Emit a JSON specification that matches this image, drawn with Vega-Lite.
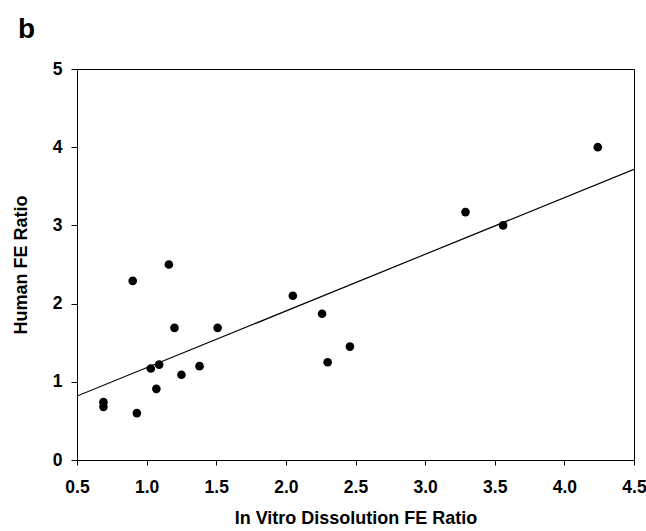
{
  "$schema": "https://vega.github.io/schema/vega-lite/v6.json",
  "autosize": "none",
  "width": 557,
  "height": 391,
  "padding": {"left": 77, "top": 69, "right": 12, "bottom": 71},
  "background": "white",
  "title": {
    "text": "b",
    "anchor": "start",
    "frame": "group",
    "font": "Liberation Sans",
    "fontSize": 28,
    "fontWeight": "bold",
    "color": "black",
    "dx": -59,
    "offset": 16
  },
  "config": {
    "view": {"stroke": "black", "strokeWidth": 1},
    "axis": {
      "grid": false,
      "domainColor": "black",
      "tickColor": "black",
      "labelColor": "black",
      "titleColor": "black",
      "labelFont": "Liberation Sans",
      "labelFontWeight": "bold",
      "labelFontSize": 17.5,
      "titleFont": "Liberation Sans",
      "titleFontWeight": "bold",
      "titleFontSize": 18,
      "tickSize": 6
    }
  },
  "data": {
    "values": [
      {"x": 0.69, "y": 0.74},
      {"x": 0.69, "y": 0.68},
      {"x": 0.93, "y": 0.60},
      {"x": 0.90, "y": 2.29},
      {"x": 1.16, "y": 2.50},
      {"x": 1.20, "y": 1.69},
      {"x": 1.51, "y": 1.69},
      {"x": 1.03, "y": 1.17},
      {"x": 1.09, "y": 1.22},
      {"x": 1.07, "y": 0.91},
      {"x": 1.25, "y": 1.09},
      {"x": 1.38, "y": 1.20},
      {"x": 2.05, "y": 2.10},
      {"x": 2.26, "y": 1.87},
      {"x": 2.30, "y": 1.25},
      {"x": 2.46, "y": 1.45},
      {"x": 3.29, "y": 3.17},
      {"x": 3.56, "y": 3.00},
      {"x": 4.24, "y": 4.00}
    ]
  },
  "encoding": {
    "x": {
      "field": "x",
      "type": "quantitative",
      "scale": {"domain": [0.5, 4.5], "nice": false, "zero": false},
      "axis": {
        "title": "In Vitro Dissolution FE Ratio",
        "values": [0.5, 1.0, 1.5, 2.0, 2.5, 3.0, 3.5, 4.0, 4.5],
        "format": ".1f",
        "tickSize": 5,
        "labelPadding": 13,
        "titlePadding": 14,
        "labelFlush": false
      }
    },
    "y": {
      "field": "y",
      "type": "quantitative",
      "scale": {"domain": [0, 5], "nice": false},
      "axis": {
        "title": "Human FE Ratio",
        "values": [0, 1, 2, 3, 4, 5],
        "format": "d",
        "labelPadding": 9,
        "titlePadding": 22,
        "labelFlush": false
      }
    }
  },
  "layer": [
    {
      "transform": [
        {"regression": "y", "on": "x", "extent": [0.5, 4.5]}
      ],
      "mark": {"type": "line", "color": "black", "strokeWidth": 1.2, "clip": true}
    },
    {
      "mark": {"type": "point", "filled": true, "color": "black", "opacity": 1, "size": 75}
    }
  ]
}
